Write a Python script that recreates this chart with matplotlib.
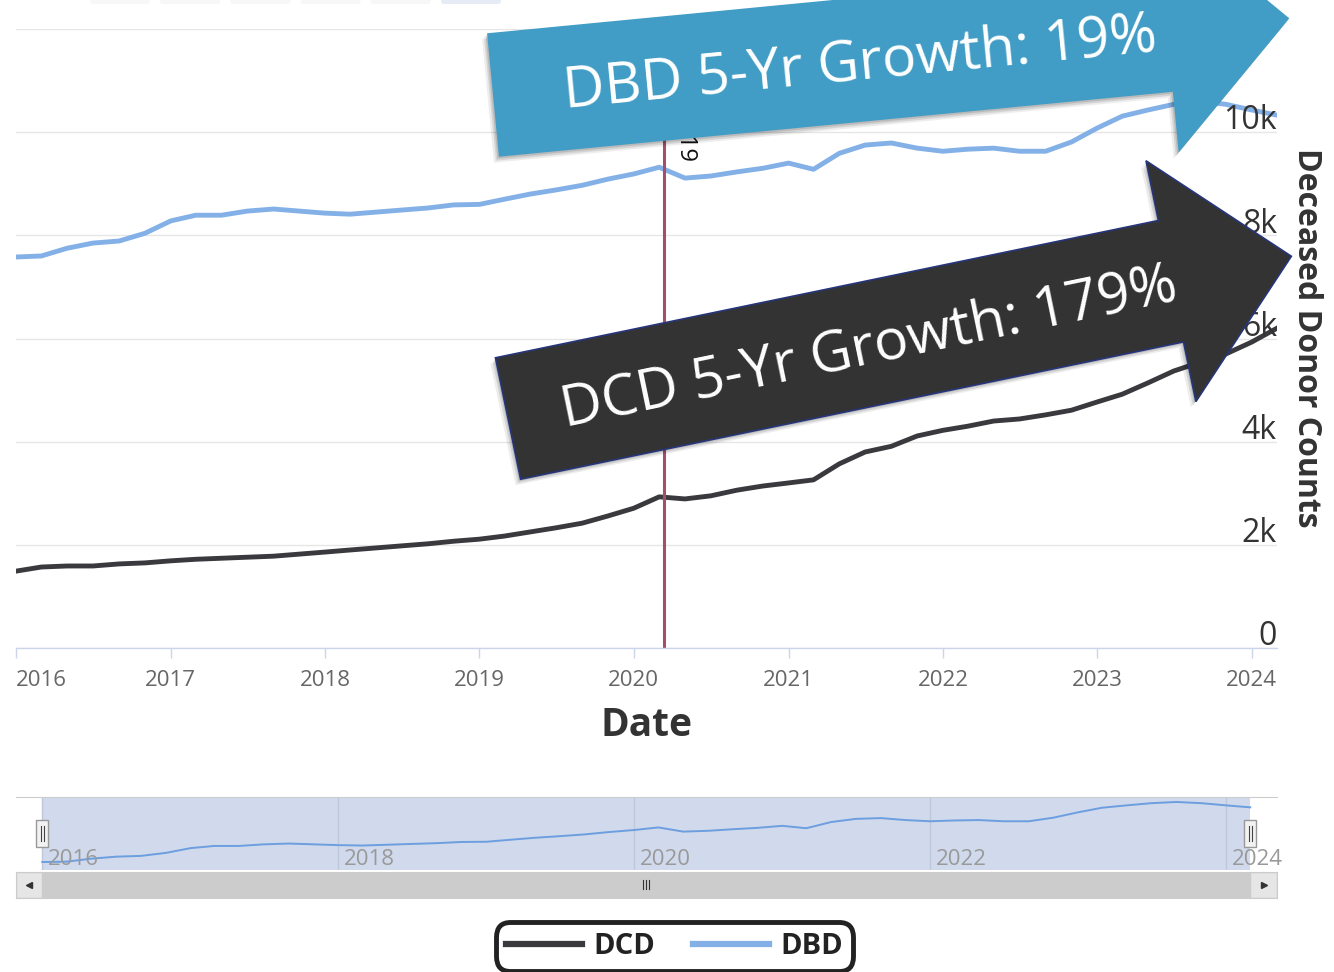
import numpy as np
import pandas as pd
import matplotlib
matplotlib.use('Agg')
import matplotlib.pyplot as plt
import matplotlib.dates as mdates
from matplotlib.patches import Polygon, FancyBboxPatch, Rectangle
from matplotlib.lines import Line2D

plt.rcParams['font.family'] = ['Open Sans', 'DejaVu Sans']

W, H = 1334, 972

# data, one point every two months
dates = pd.date_range('2016-01-01', periods=50, freq='2MS')
dcd = [1490, 1570, 1590, 1590, 1630, 1650, 1690, 1720, 1740, 1760,
       1780, 1820, 1860, 1900, 1940, 1980, 2020, 2070, 2110, 2170,
       2250, 2330, 2420, 2560, 2710, 2930, 2890, 2950, 3060, 3140,
       3200, 3260, 3570, 3800, 3910, 4110, 4220, 4300, 4400, 4440,
       4520, 4610, 4770, 4920, 5140, 5370, 5540, 5700, 5930, 6200]
dbd = [7580, 7600, 7750, 7850, 7890, 8040, 8280, 8390, 8390, 8470,
       8510, 8470, 8430, 8410, 8450, 8490, 8530, 8590, 8600, 8700,
       8800, 8880, 8970, 9090, 9190, 9320, 9110, 9150, 9230, 9300,
       9400, 9280, 9590, 9750, 9790, 9690, 9630, 9670, 9690, 9630,
       9630, 9810, 10080, 10310, 10430, 10540, 10600, 10540, 10430, 10330]
series_names = ['DCD', 'DBD']
ytick_vals = [0, 2000, 4000, 6000, 8000, 10000, 12000]
ytick_labels = ['0', '2k', '4k', '6k', '8k', '10k', '']
year_ticks = list(range(2016, 2025))
nav_years = list(range(2016, 2025, 2))
event_date = pd.Timestamp('2020-03-13')
event_label = 'COVID-19'
arrow_labels = ['DBD 5-Yr Growth: 19%', 'DCD 5-Yr Growth: 179%']

dcd_color = '#3a3a3e'
dbd_color = '#83b0e6'

fig = plt.figure(figsize=(W / 100, H / 100), dpi=100)

# main chart
ax = fig.add_axes([16 / W, 1 - 648 / H, 1261 / W, 619 / H])
ax.plot(dates, dcd, color=dcd_color, lw=3.5, solid_joinstyle='round')
ax.plot(dates, dbd, color=dbd_color, lw=3.5, solid_joinstyle='round')
ax.axvline(event_date, color='#a64d6e', lw=2.2)
ax.annotate(event_label, xy=(event_date, 9400), xytext=(6, 0), textcoords='offset points',
            rotation=-90, ha='left', va='bottom', fontsize=17, color='#111111')
ax.set_xlim(dates[0], dates[-1])
ax.set_ylim(0, 12000)
ax.set_yticks(ytick_vals)
ax.yaxis.grid(True, color='#e6e6e6', lw=1)
ax.tick_params(axis='y', length=0, labelleft=False, labelright=False)
for v, lab in zip(ytick_vals, ytick_labels):
    ax.annotate(lab, xy=(1, v), xycoords=('axes fraction', 'data'), xytext=(0, 2),
                textcoords='offset points', ha='right', va='baseline', fontsize=23, color='#333333')
ax.set_xticks([pd.Timestamp(f'{y}-01-01') for y in year_ticks])
ax.xaxis.set_major_formatter(mdates.DateFormatter('%Y'))
ax.tick_params(axis='x', length=7.5, width=1, color='#ccd6eb', pad=8, labelsize=16, labelcolor='#666666')
ax.get_xticklabels()[0].set_ha('left')
for s in ['top', 'left', 'right']:
    ax.spines[s].set_visible(False)
ax.spines['bottom'].set_color('#ccd6eb')
ax.spines['bottom'].set_linewidth(1)
ax.set_xlabel('Date', fontsize=28, fontweight='bold', color='#333333')
ax.xaxis.set_label_coords((647 - 16) / 1261, (648 - 726) / 619)
ax.xaxis.label.set_va('center')
ax.yaxis.set_label_position('right')
ax.set_ylabel('Deceased Donor Counts', fontsize=23, fontweight='bold', color='#333333', rotation=-90)
ax.yaxis.set_label_coords((1307 - 16) / 1261, (648 - 338) / 619)
ax.yaxis.label.set_va('center')

# navigator
nav_lo, nav_hi = pd.Timestamp('2015-10-28'), pd.Timestamp('2024-05-06')
nav = fig.add_axes([16 / W, 1 - 870 / H, 1261 / W, 73 / H])
nav.plot(dates, dbd, color='#6d9ee0', lw=1.4)
nav.axvspan(dates[0], dates[-1], color=(102 / 255, 133 / 255, 194 / 255), alpha=0.3, lw=0)
nav.set_xlim(nav_lo, nav_hi)
nav.set_ylim(7180, 10850)
nav.set_xticks([pd.Timestamp(f'{y}-01-01') for y in nav_years])
nav.xaxis.grid(True, color='#bfc7da', lw=1)
nav.tick_params(length=0, labelbottom=False, labelleft=False)
for y in nav_years:
    nav.annotate(str(y), xy=(pd.Timestamp(f'{y}-01-01'), 0.07), xycoords=('data', 'axes fraction'),
                 xytext=(4, 0), textcoords='offset points', ha='left', va='baseline',
                 fontsize=16, color='#999999')
for s in ['left', 'right', 'bottom']:
    nav.spines[s].set_visible(False)
nav.spines['top'].set_color('#cccccc')

# scrollbar
sb = fig.add_axes([16 / W, 1 - 898 / H, 1261 / W, 26 / H])
sb.set_xlim(nav_lo, nav_hi)
sb.set_ylim(0, 1)
sb.set_facecolor('#f2f2f2')
sb.axvspan(dates[0], dates[-1], color='#cccccc', lw=0)
sb.axvspan(nav_lo, dates[0], fc='#e6e6e6', ec='#cccccc', lw=1)
sb.axvspan(dates[-1], nav_hi, fc='#e6e6e6', ec='#cccccc', lw=1)
sb.set_xticks([])
sb.set_yticks([])
for s in sb.spines.values():
    s.set_color('#cccccc')

# overlay in pixel coordinates for annotations and widgets
ov = fig.add_axes([0, 0, 1, 1], zorder=10)
ov.set_xlim(0, W)
ov.set_ylim(H, 0)
ov.axis('off')
ov.patch.set_alpha(0)

fig.canvas.draw()


def to_px(axes, x, y):
    dx, dy = axes.transData.transform((mdates.date2num(x), y))
    return dx, H - dy


# range selector buttons peeking at the top
for i in range(6):
    fc = '#e6ebf5' if i == 5 else '#f7f7f7'
    ov.add_patch(FancyBboxPatch((90 + i * 70.2, -20), 60, 24,
                                boxstyle='round,pad=0,rounding_size=3', fc=fc, ec='none'))

# navigator handles
for d in [dates[0], dates[-1]]:
    hx, _ = to_px(nav, d, 9000)
    ov.add_patch(Rectangle((hx - 6, 820), 12, 27, fc='#f2f2f2', ec='#999999', lw=1))
    ov.plot([hx - 1.5, hx - 1.5], [826, 841], color='#444444', lw=0.8)
    ov.plot([hx + 1.5, hx + 1.5], [826, 841], color='#444444', lw=0.8)

# scrollbar arrows and grip
lx, _ = to_px(sb, nav_lo, 0.5)
l2, _ = to_px(sb, dates[0], 0.5)
r1, _ = to_px(sb, dates[-1], 0.5)
rx, _ = to_px(sb, nav_hi, 0.5)
ov.plot([(lx + l2) / 2], [885], marker='<', ms=5, color='#333333')
ov.plot([(r1 + rx) / 2], [885], marker='>', ms=5, color='#333333')
gx = (l2 + r1) / 2
for off in [-3, 0, 3]:
    ov.plot([gx + off, gx + off], [880, 889], color='#333333', lw=0.8)


def arrow_poly(cx, cy, ang, length=800, neck=677, body=62, head=123):
    a = np.radians(ang)
    d = np.array([np.cos(a), -np.sin(a)])
    n = np.array([np.sin(a), np.cos(a)])
    t = np.array([cx, cy])
    pts = [t - body * n, t + neck * d - body * n, t + neck * d - head * n, t + length * d,
           t + neck * d + head * n, t + neck * d + body * n, t + body * n]
    return np.array(pts), d, n


arrows = [(493, 95, 5.5, '#419dc5', 'none'), (508, 418.5, 11.7, '#333333', '#27357a')]
for (cx, cy, ang, fc, ec), lab in zip(arrows, arrow_labels):
    pts, d, n = arrow_poly(cx, cy, ang)
    for off, al in [((-5, 6), 0.07), ((-3, 4), 0.1), ((-1.5, 2), 0.12)]:
        ov.add_patch(Polygon(pts + np.array(off), closed=True, fc='black', alpha=al, ec='none'))
    ov.add_patch(Polygon(pts, closed=True, fc=fc, ec=ec, lw=1.2))
    tx = cx + 368 * d[0] + 5 * n[0]
    ty = cy + 368 * d[1] + 5 * n[1]
    ov.text(tx, ty, lab, rotation=ang, rotation_mode='anchor',
            ha='center', va='center', color='white', fontsize=41)

# legend
handles = [Line2D([], [], color=dcd_color, lw=4.5), Line2D([], [], color=dbd_color, lw=4.5)]
leg = fig.legend(handles, series_names, loc='center', bbox_to_anchor=(674.5 / W, 1 - 946.5 / H),
                 ncol=2, prop={'weight': 'bold', 'size': 21}, frameon=True, handlelength=2.6,
                 handletextpad=0.4, columnspacing=1.3, borderpad=0.34, fancybox=True)
for t in leg.get_texts():
    t.set_color('#222222')
frame = leg.get_frame()
frame.set_edgecolor('#222222')
frame.set_linewidth(3.5)
frame.set_alpha(1)
frame.set_boxstyle('round', pad=0, rounding_size=0.5)

fig.savefig('out.png', dpi=100)
